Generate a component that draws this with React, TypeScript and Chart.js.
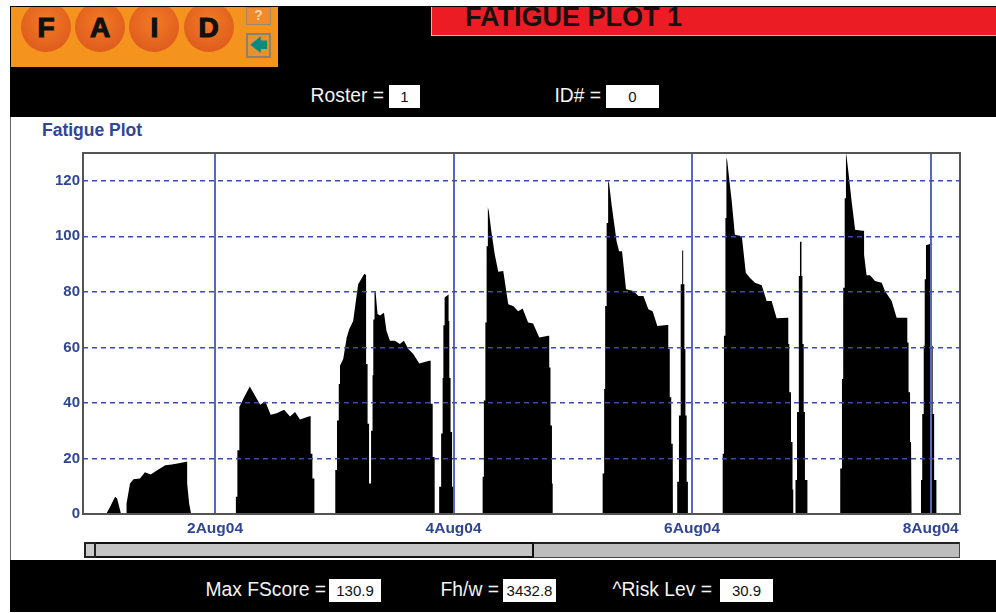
import React, { useEffect, useRef } from "react";
import { Chart, registerables } from "chart.js";

Chart.register(...registerables);

// Hours since 1 Aug 2004 00:00, and fatigue score, one pair of lists per duty.
const duty1Hours = [2.1, 2.9, 3.9, 4.3, 5.1];
const duty1Score = [0, 2.6, 6.2, 5.6, 0];
const duty2Hours = [6.1, 6.2, 6.9, 7.6, 8.9, 9.9, 11.06, 12.6, 14.0, 15.3, 17.0, 18.2, 18.4, 18.8, 19.2];
const duty2Score = [0, 3.8, 11, 12.5, 12.8, 15, 14.2, 16, 17.6, 17.8, 18.4, 18.8, 11, 3.8, 0];
const duty3Hours = [28.0, 28.2, 28.5, 28.9, 29.7, 31.0, 32.4, 33.1, 34.1, 35.2, 36.4, 37.9, 39.1, 40.1, 41.1, 43.0, 43.25, 43.6, 44.0];
const duty3Score = [0, 6.2, 23, 38.5, 41.5, 45.9, 41.5, 39.3, 40.6, 35.7, 36.3, 37.5, 35.1, 36.7, 34, 35.2, 21.7, 12.8, 0];
const duty4Hours = [48.0, 48.2, 48.55, 48.9, 49.15, 49.8, 50.5, 51.0, 51.8, 52.8, 54.05, 54.3, 54.4, 54.7, 55.0, 55.3, 55.4, 55.7, 55.85, 56.1, 56.3, 56.7, 57.2, 58.0, 58.5, 59.2, 60.2, 61.2, 62.0, 62.9, 63.9, 65.1, 67.1, 67.4, 67.8, 68.2];
const duty4Score = [0, 15.8, 33.7, 46.8, 53.4, 55.8, 63.6, 66.5, 69.5, 82.7, 86.5, 86.2, 54, 32.5, 11, 11, 30, 50, 70, 80.3, 80.3, 72, 71.5, 72.5, 66, 62.4, 62.4, 61.2, 62.4, 59.4, 57.6, 54.2, 55.2, 39.7, 20.5, 0];
const duty5Hours = [68.9, 69.1, 69.5, 69.8, 69.95, 70.2, 71.0, 71.0, 71.15, 71.4, 71.7, 72.0];
const duty5Score = [0, 9.8, 29, 49, 68, 78, 79, 69.5, 49, 29.5, 9.8, 0];
const duty6Hours = [77.8, 77.85, 78.1, 78.4, 78.65, 78.9, 79.1, 79.6, 80.3, 81.0, 82.0, 83.0, 84.0, 85.0, 85.9, 87.0, 88.0, 89.25, 91.05, 91.25, 91.5, 91.8, 91.95];
const duty6Score = [0, 13.4, 40.9, 69, 96.4, 110.5, 109, 101.8, 93.4, 87.2, 87.5, 75.5, 74.9, 73, 74, 69, 68.6, 63.6, 64.2, 52.8, 31.9, 11, 0];
const duty7Hours = [101.9, 102.0, 102.3, 102.5, 102.8, 103.1, 103.3, 103.8, 104.8, 105.3, 105.9, 106.7, 108.2, 109.2, 110.2, 111.2, 112.05, 113.0, 114.9, 115.2, 115.5, 115.8, 116.1, 116.15];
const duty7Score = [0, 14.6, 45, 74.9, 104.8, 120, 119, 111.4, 98.2, 94.6, 94.6, 80.9, 80.3, 78.5, 78.5, 73.7, 73, 67.7, 68.1, 59.4, 42, 25.3, 8.6, 0];
const duty8Hours = [116.9, 117.0, 117.35, 117.6, 117.75, 118.0, 118.2, 118.2, 118.45, 118.65, 118.9, 119.15];
const duty8Score = [0, 11.6, 35.5, 59.4, 82.7, 94.9, 94.9, 82.7, 59.4, 35.5, 11.6, 0];
const duty9Hours = [126.1, 126.15, 126.4, 126.7, 126.9, 127.05, 127.3, 127.95, 128.6, 130.0, 130.8, 131.65, 132.65, 134.0, 135.0, 136.0, 137.0, 139.15, 139.35, 139.55, 139.9, 140.2, 140.35];
const duty9Score = [0, 21.7, 64.2, 106.6, 128.4, 127.5, 123.3, 113, 100.6, 100, 86.9, 85, 83.3, 82.4, 76.7, 76.7, 70.5, 70.7, 61.2, 43.8, 25.9, 8.8, 0];
const duty10Hours = [140.7, 140.8, 141.1, 141.4, 141.5, 141.7, 142.0, 142.0, 142.2, 142.45, 142.7, 143.2];
const duty10Score = [0, 12.2, 36.7, 61.2, 85.7, 98, 98, 85.7, 61.2, 36.7, 12.2, 0];
const duty11Hours = [149.75, 149.8, 150.15, 150.4, 150.7, 150.95, 151.1, 151.45, 152.1, 152.8, 154.25, 154.6, 155.1, 155.8, 156.8, 158.15, 158.8, 160.15, 161.15, 163.15, 163.3, 163.55, 163.85, 164.05, 164.2];
const duty11Score = [0, 16.4, 48.6, 81.5, 113.7, 130, 128.5, 123, 112.5, 102.4, 102, 93.4, 86, 86, 83.9, 83.3, 80.3, 76.7, 70.7, 70.7, 61.8, 43.8, 25.9, 8.8, 0];
const duty12Hours = [166.0, 166.05, 166.3, 166.6, 166.8, 167.05, 168.0, 168.0, 168.15, 168.4, 168.7, 169.2];
const duty12Score = [0, 12.2, 36, 60.6, 84.5, 96.8, 97.3, 85, 60.6, 36, 12.2, 0];

const allHours = [duty1Hours, duty2Hours, duty3Hours, duty4Hours, duty5Hours, duty6Hours, duty7Hours, duty8Hours, duty9Hours, duty10Hours, duty11Hours, duty12Hours];
const allScores = [duty1Score, duty2Score, duty3Score, duty4Score, duty5Score, duty6Score, duty7Score, duty8Score, duty9Score, duty10Score, duty11Score, duty12Score];

const dateTickHours = [24, 72, 120, 168];
const dateTickLabels = ["2Aug04", "4Aug04", "6Aug04", "8Aug04"];
const scoreTicks = [0, 20, 40, 60, 80, 100, 120];
const faidLetters = ["F", "A", "I", "D"];

const FONT = '"Liberation Sans", Arial, sans-serif';
const BLUE = "#2f4596";
const STEEP_SLOPE = 22;

const box = (l: number, t: number, w: number, h: number, extra: React.CSSProperties = {}): React.CSSProperties => ({
  position: "absolute", left: l, top: t, width: w, height: h, boxSizing: "border-box", ...extra,
});

function Label({ x, w, y, text }: { x: number; w: number; y: number; text: string }) {
  return (
    <div style={box(x, y, w, 22, { color: "#f4f4f4", fontSize: 19.3, lineHeight: "22px", whiteSpace: "nowrap", textAlign: "right" })}>{text}</div>
  );
}

function ValueBox({ x, w, y, text }: { x: number; w: number; y: number; text: string }) {
  return (
    <div style={box(x, y, w, 23, { background: "#fff", color: "#111", fontSize: 15, lineHeight: "23px", textAlign: "center" })}>{text}</div>
  );
}

export default function App() {
  const ref = useRef<HTMLCanvasElement>(null);
  useEffect(() => {
    // The plotted profile is a staircase on its steep flanks: hold, then jump.
    const points: { x: number; y: number }[] = [];
    allHours.forEach((hours, i) => {
      hours.forEach((h, j) => {
        const y = allScores[i][j];
        if (j > 0) {
          const dx = h - hours[j - 1];
          const py = allScores[i][j - 1];
          if (dx > 0 && Math.abs(y - py) / dx > STEEP_SLOPE) points.push({ x: h, y: py });
        }
        points.push({ x: h, y });
      });
    });
    const frame = {
      id: "frame",
      afterDraw(c: any) {
        const { left, top, width, height } = c.chartArea;
        c.ctx.save();
        c.ctx.strokeStyle = "#555";
        c.ctx.lineWidth = 2;
        c.ctx.strokeRect(left, top, width, height);
        c.ctx.restore();
      },
    };
    const chart = new Chart(ref.current!, {
      type: "line",
      data: {
        datasets: [{
          data: points,
          borderWidth: 0,
          borderColor: "#000",
          backgroundColor: "#000",
          fill: "origin",
          pointRadius: 0,
          tension: 0,
        }],
      },
      options: {
        animation: false,
        responsive: false,
        parsing: false,
        layout: { padding: { top: 10, right: 20, left: 0, bottom: 0 } },
        plugins: { legend: { display: false }, tooltip: { enabled: false } },
        scales: {
          x: {
            type: "linear",
            min: -2.56,
            max: 173.9,
            afterBuildTicks: (s: any) => { s.ticks = dateTickHours.map((value) => ({ value })); },
            afterFit: (s: any) => { s.height = 27; },
            grid: { z: 1, color: "#5668bf", lineWidth: 2, drawTicks: false },
            border: { display: false },
            ticks: {
              autoSkip: false, maxRotation: 0, padding: 5, color: BLUE,
              font: { family: FONT, weight: "bold", size: 15.5 },
              callback: (v: any) => dateTickLabels[dateTickHours.indexOf(v)] ?? "",
            },
          },
          y: {
            min: 0,
            max: 130,
            afterBuildTicks: (s: any) => { s.ticks = scoreTicks.map((value) => ({ value })); },
            afterFit: (s: any) => { s.width = 43; },
            grid: { z: 1, color: "#3f4ba5", lineWidth: 1.6, drawTicks: false },
            border: { display: false, dash: [5, 4] },
            ticks: {
              padding: 3, color: BLUE,
              font: { family: FONT, weight: "bold", size: 15 },
            },
          },
        },
      },
      plugins: [frame],
    } as any);
    return () => chart.destroy();
  }, []);

  return (
    <div style={{ position: "fixed", left: 0, top: 0, width: 996, height: 613, background: "#fff", overflow: "hidden", fontFamily: FONT }}>
      {/* top banner */}
      <div style={box(10, 6, 986, 111, { background: "#000" })} />
      <div style={box(11, 7, 267, 60, { background: "#f5931f", overflow: "hidden" })}>
        {faidLetters.map((l, i) => (
          <div key={l} style={box(10 + i * 54.2, -5, 50, 50, {
            borderRadius: "50%", background: "radial-gradient(circle at 50% 40%, #f27a25, #d9531b)",
            color: "#111", fontSize: 28, fontWeight: "bold", textAlign: "center", lineHeight: "52px",
            WebkitTextStroke: "1.2px #111",
          })}>{l}</div>
        ))}
        <div style={box(235, 0, 25, 18, { background: "#f08a2a", border: "1px solid #9a8a70", color: "#f6d9a8", fontSize: 14, fontWeight: "bold", textAlign: "center", lineHeight: "15px" })}>?</div>
        <div style={box(235, 26, 25, 25, { background: "#e5932f", border: "2px solid #8a8270", color: "#0b8a80", fontSize: 18, textAlign: "center", lineHeight: "20px" })}>🡄</div>
      </div>
      <div style={box(431, 7, 565, 29, { background: "#ec1c24", borderBottom: "1px solid #e8b0a8", borderLeft: "1px solid #e8b0a8", overflow: "hidden" })}>
        <div style={{ position: "absolute", left: 33, top: -5, fontSize: 27, fontWeight: "bold", color: "#1a1010", whiteSpace: "nowrap" }}>FATIGUE PLOT 1</div>
      </div>
      <Label x={290} w={94} y={85} text="Roster =" />
      <ValueBox x={389} w={31} y={85} text="1" />
      <Label x={520} w={81} y={85} text="ID# =" />
      <ValueBox x={606} w={53} y={85} text="0" />

      {/* white panel */}
      <div style={box(10, 117, 1, 443, { background: "#666" })} />
      <div style={{ position: "absolute", left: 42, top: 120, fontSize: 17.5, fontWeight: "bold", color: BLUE, whiteSpace: "nowrap" }}>Fatigue Plot</div>
      <canvas ref={ref} width={940} height={400} style={{ position: "absolute", left: 40, top: 141, width: 940, height: 400, display: "block" }} />

      {/* scroll bar */}
      <div style={box(84, 542, 876, 16, { background: "#bdbdbd", border: "1px solid #444", borderTop: "2px solid #222" })} />
      <div style={box(84, 542, 450, 16, { background: "#c4c4c4", border: "2px solid #111" })} />
      <div style={box(84, 542, 12, 16, { background: "#ccc", border: "2px solid #222" })} />

      {/* bottom banner */}
      <div style={box(10, 560, 986, 52, { background: "#000" })} />
      <Label x={170} w={156} y={579} text="Max FScore =" />
      <ValueBox x={329} w={52} y={579} text="130.9" />
      <Label x={420} w={79} y={579} text="Fh/w =" />
      <ValueBox x={503} w={53} y={579} text="3432.8" />
      <Label x={576} w={136} y={579} text="^Risk Lev =" />
      <ValueBox x={720} w={53} y={579} text="30.9" />
    </div>
  );
}
